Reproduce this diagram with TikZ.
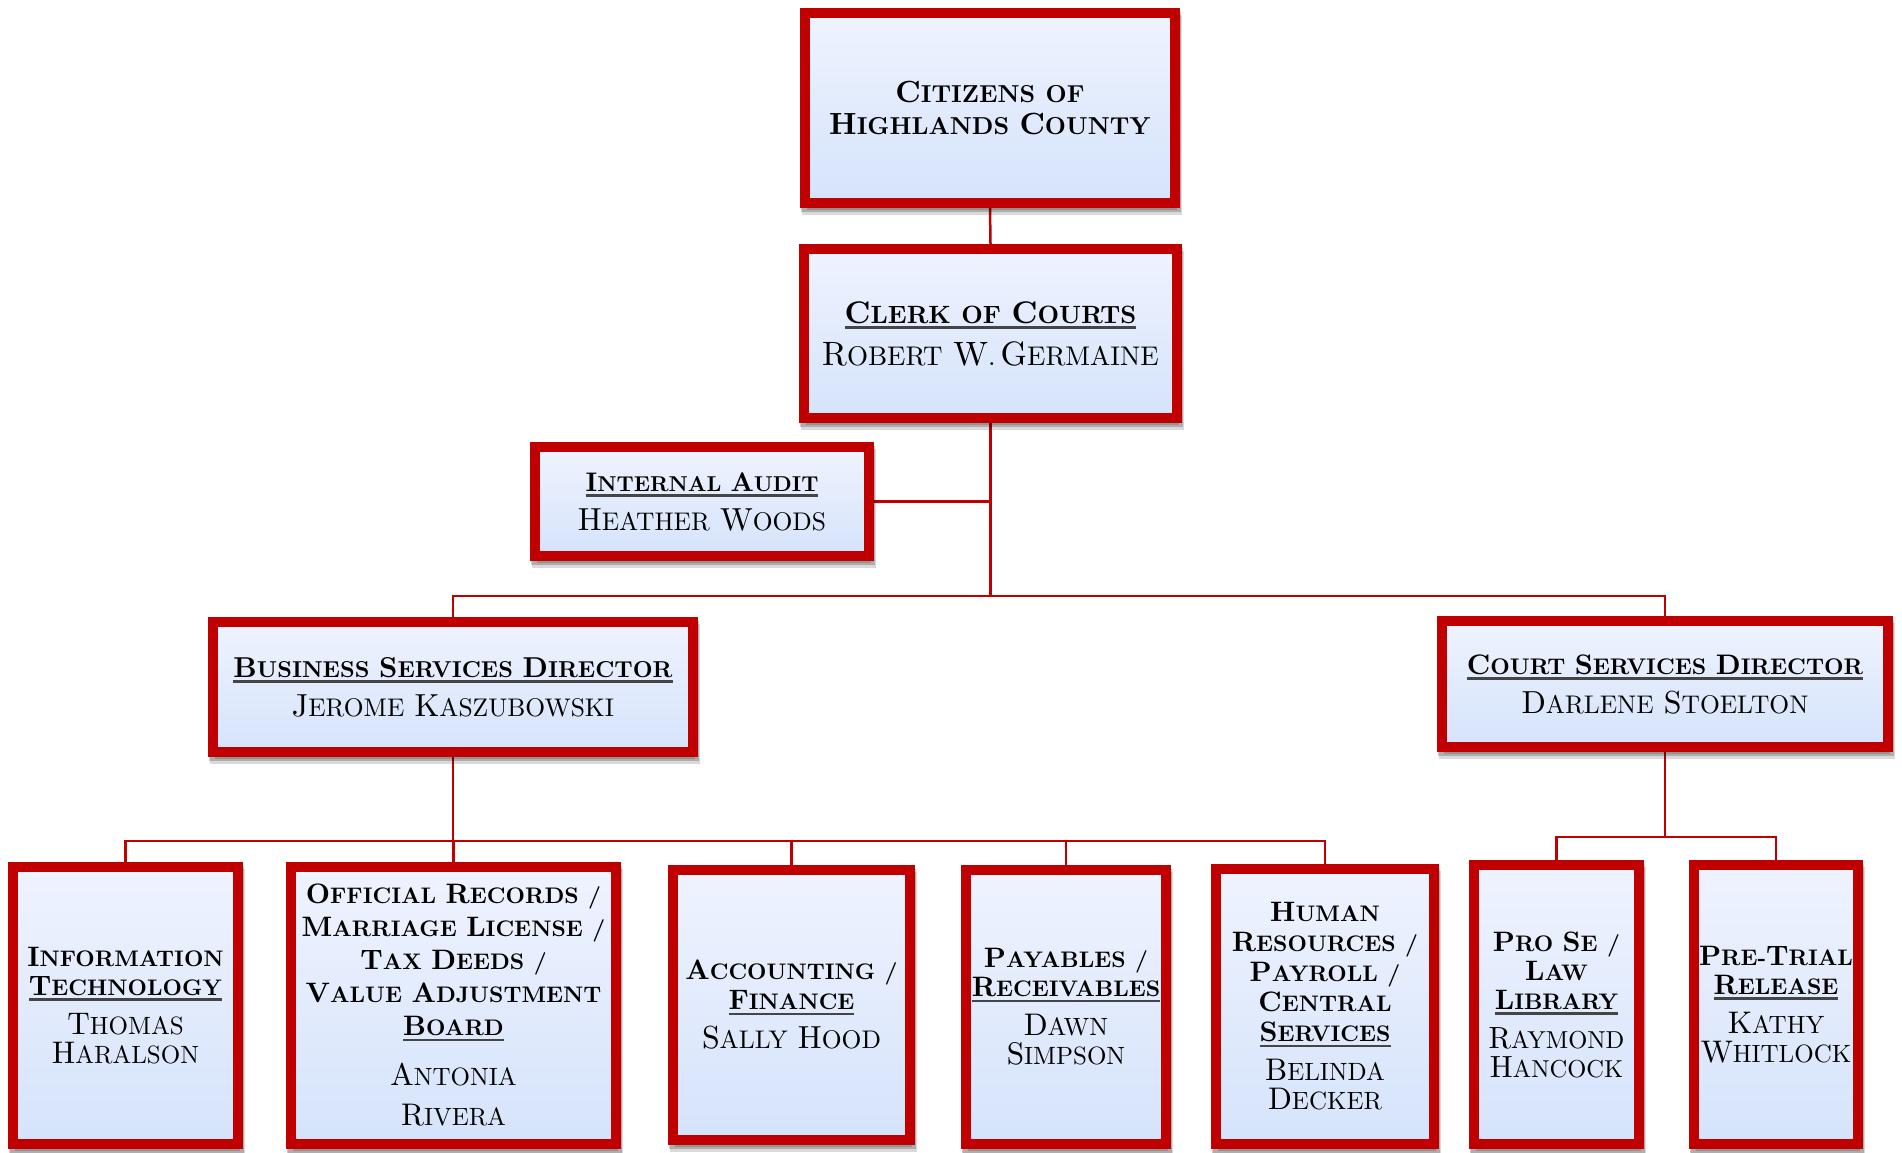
\documentclass[tikz,border=0pt]{standalone}
\usepackage{graphicx}
\usepackage{fontspec}
\newfontface\nmf{lmroman10-regular.otf}
\newfontface\tlf{lmroman10-bold.otf}
\usetikzlibrary{shadows}
\definecolor{bred}{HTML}{C00000}
\definecolor{ftop}{HTML}{EFF3FE}
\definecolor{fbot}{HTML}{D5E3FB}
\definecolor{ulg}{HTML}{454545}
\newsavebox\ulsave
\newcommand\bigc[1]{\scalebox{1.25}{#1}}
\newcommand\ulx[1]{\leavevmode\sbox\ulsave{#1}\rlap{\raisebox{-5.5pt}{\textcolor{ulg}{\rule{\wd\ulsave}{2.4pt}}}}\usebox\ulsave}
\newcommand\ttl[3][30]{{\fontsize{#2}{#1}\tlf\spaceskip=.42em\relax #3\par}}
\newcommand\nme[3][29]{\vspace{10pt}{\fontsize{#2}{#1}\nmf\spaceskip=.4em\relax #3\par}}
\pgfdeclarelayer{background}
\pgfsetlayers{background,main}
\tikzset{
  orgbox/.style={draw=bred, line width=10pt, top color=ftop, bottom color=fbot,
    align=center, inner sep=0pt,
    drop shadow={shadow xshift=2pt, shadow yshift=-7pt, opacity=.15, fill=black, draw=black, line width=10pt},
    drop shadow={shadow xshift=1pt, shadow yshift=-4pt, opacity=.2, fill=black, draw=black, line width=10pt}},
  conn/.style={draw=bred, line width=2.5pt}
}
\begin{document}
\begin{tikzpicture}[x=1pt,y=-1pt]
\hyphenpenalty=10000 \exhyphenpenalty=10000
\useasboundingbox (0,0) rectangle (1902,1152);
\begin{pgfonlayer}{background}
\fill[white] (0,0) rectangle (1902,1152);
\end{pgfonlayer}

\node[orgbox, minimum width=370pt, minimum height=190pt, text width=356pt] (cit) at (990,108)
  {\ttl[31.5]{24.5}{\bigc{C}ITIZENS OF\\\bigc{H}IGHLANDS \bigc{C}OUNTY}};
\node[orgbox, minimum width=373pt, minimum height=169pt, text width=359pt] (clerk) at (990.5,333.5)
  {\ttl{25}{\ulx{\bigc{C}LERK OF \bigc{C}OURTS}}\nme[32]{27}{\bigc{R}OBERT \bigc{W}. \bigc{G}ERMAINE}};
\node[orgbox, minimum width=334pt, minimum height=109pt, text width=320pt] (ia) at (702,501.5)
  {\ttl{21.5}{\ulx{\bigc{I}NTERNAL \bigc{A}UDIT}}\nme{25.5}{\bigc{H}EATHER \bigc{W}OODS}};
\node[orgbox, minimum width=480pt, minimum height=130pt, text width=466pt] (bsd) at (453,687)
  {\ttl{23}{\ulx{\bigc{B}USINESS \bigc{S}ERVICES \bigc{D}IRECTOR}}\nme{25.5}{\bigc{J}EROME \bigc{K}ASZUBOWSKI}};
\node[orgbox, minimum width=446pt, minimum height=126pt, text width=432pt] (csd) at (1665,684)
  {\ttl{22.6}{\ulx{\bigc{C}OURT \bigc{S}ERVICES \bigc{D}IRECTOR}}\nme{25.5}{\bigc{D}ARLENE \bigc{S}TOELTON}};

\node[orgbox, minimum width=225pt, minimum height=277pt, text width=213pt] (it) at (125.5,1005.5)
  {\ttl[29]{22.5}{\bigc{I}NFORMATION\\\ulx{\bigc{T}ECHNOLOGY}}\nme{25}{\bigc{T}HOMAS\\\bigc{H}ARALSON}};
\node[orgbox, minimum width=325pt, minimum height=277pt, text width=313pt] (off) at (453.5,1005.5)
  {\ttl[33]{22.5}{\bigc{O}FFICIAL \bigc{R}ECORDS /\\\bigc{M}ARRIAGE \bigc{L}ICENSE /\\\bigc{T}AX \bigc{D}EEDS /\\\bigc{V}ALUE \bigc{A}DJUSTMENT\\\ulx{\bigc{B}OARD}}\nme[40]{25}{\bigc{A}NTONIA\\\bigc{R}IVERA}};
\node[orgbox, minimum width=237pt, minimum height=270pt, text width=225pt] (acc) at (791.5,1005)
  {\ttl[30]{22.5}{\bigc{A}CCOUNTING /\\\ulx{\bigc{F}INANCE}}\nme{25.5}{\bigc{S}ALLY \bigc{H}OOD}};
\node[orgbox, minimum width=200pt, minimum height=274pt, text width=198pt] (pay) at (1066,1007)
  {\ttl[29]{22.5}{\bigc{P}AYABLES /\\\ulx{\bigc{R}ECEIVABLES}}\nme{25}{\bigc{D}AWN\\\bigc{S}IMPSON}};
\node[orgbox, minimum width=218pt, minimum height=275pt, text width=210pt] (hr) at (1325,1006.5)
  {\ttl[30]{22.5}{\bigc{H}UMAN\\\bigc{R}ESOURCES /\\\bigc{P}AYROLL /\\\bigc{C}ENTRAL\\\ulx{\bigc{S}ERVICES}}\nme{25}{\bigc{B}ELINDA\\\bigc{D}ECKER}};
\node[orgbox, minimum width=165pt, minimum height=279pt, text width=157pt] (prose) at (1556.5,1004.5)
  {\ttl[29]{22.5}{\bigc{P}RO \bigc{S}E /\\\bigc{L}AW\\\ulx{\bigc{L}IBRARY}}\nme{24.5}{\bigc{R}AYMOND\\\bigc{H}ANCOCK}};
\node[orgbox, minimum width=164pt, minimum height=279pt, text width=156pt] (pre) at (1776,1004.5)
  {\ttl[29]{22.5}{\bigc{P}RE-\bigc{T}RIAL\\\ulx{\bigc{R}ELEASE}}\nme{25}{\bigc{K}ATHY\\\bigc{W}HITLOCK}};

\coordinate (hub) at (990.5,596);
\coordinate (bhub) at (453,841);
\coordinate (chub) at (1665,837);
\begin{pgfonlayer}{background}
\draw[conn] (cit.south) -- (clerk.north);
\draw[conn] (clerk.south) -- (hub);
\draw[conn] (ia.east) -| (clerk.south);
\draw[conn] (hub) -| (bsd.north);
\draw[conn] (hub) -| (csd.north);
\draw[conn] (bsd.south) -- (bhub);
\draw[conn] (bhub) -| (it.north);
\draw[conn] (bhub) -| (off.north);
\draw[conn] (bhub) -| (acc.north);
\draw[conn] (bhub) -| (pay.north);
\draw[conn] (bhub) -| (hr.north);
\draw[conn] (csd.south) -- (chub);
\draw[conn] (chub) -| (prose.north);
\draw[conn] (chub) -| (pre.north);
\end{pgfonlayer}
\end{tikzpicture}
\end{document}
